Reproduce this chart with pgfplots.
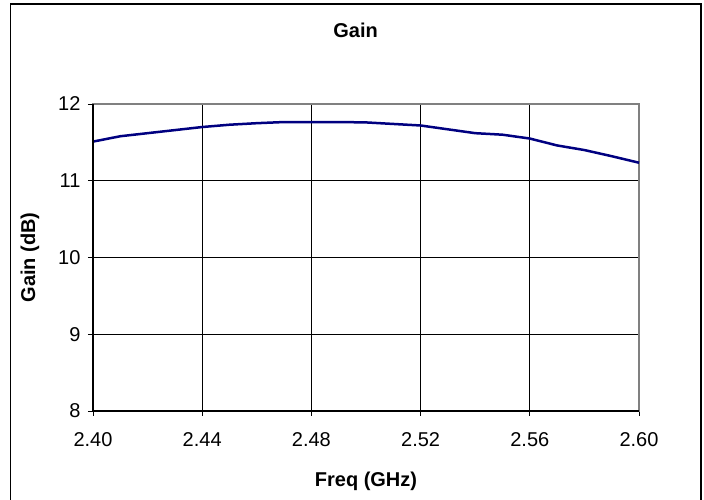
\documentclass[border=0pt]{standalone}
\usepackage{pgfplots}
\pgfplotsset{compat=1.18}
\usepackage{fontspec}
\setmainfont{Liberation Sans}
\definecolor{navy}{RGB}{0,0,128}
\definecolor{plotgray}{RGB}{128,128,128}
\begin{document}
\begin{tikzpicture}[x=1pt,y=1pt]
\useasboundingbox (-93,-89) rectangle (611,411);
\draw[black, line width=1.2pt] (-82.5,-95) -- (-82.5,407) -- (608,407) -- (608,-95);
\begin{axis}[
  at={(0,0)}, anchor=south west,
  scale only axis, width=546pt, height=307pt,
  xmin=2.40, xmax=2.60, ymin=8, ymax=12,
  xtick={2.40,2.44,2.48,2.52,2.56,2.60},
  ytick={8,9,10,11,12},
  xtick pos=bottom, ytick pos=left,
  xticklabel style={/pgf/number format/fixed, /pgf/number format/fixed zerofill, /pgf/number format/precision=2, yshift=-13pt},
  /pgf/number format/assume math mode=true,
  tick label style={font=\fontsize{20}{24}\selectfont},
  yticklabel style={xshift=-4pt},
  tick align=outside, major tick length=5pt,
  tick style={black, line width=0.8pt},
  grid=major, major grid style={black, line width=0.8pt},
  axis line style={draw=plotgray, line width=2pt},
  title={\textbf{Gain}},
  title style={font=\fontsize{20}{24}\selectfont, at={(axis description cs:0.481,1.22)}, anchor=center},
  xlabel={\textbf{Freq (GHz)}},
  xlabel style={font=\fontsize{20}{24}\selectfont, at={(axis description cs:0.5,-0.2305)}, anchor=center},
  ylabel={\textbf{Gain (dB)}},
  ylabel style={font=\fontsize{20}{24}\selectfont, at={(axis description cs:-0.1154,0.5)}, anchor=center, rotate=0},
  clip=false,
]
\addplot[navy, line width=2.5pt, line join=round] coordinates {
(2.40,11.51) (2.41,11.58) (2.42,11.62) (2.43,11.66) (2.44,11.70)
(2.45,11.73) (2.46,11.75) (2.47,11.765) (2.48,11.765) (2.49,11.765)
(2.50,11.76) (2.51,11.74) (2.52,11.72) (2.53,11.67) (2.54,11.62)
(2.55,11.60) (2.56,11.55) (2.57,11.46) (2.58,11.40) (2.59,11.32)
(2.60,11.235)
};
\draw[black, line width=1.5pt] (rel axis cs:0,1) -- (rel axis cs:0,0) -- (rel axis cs:1,0);
\end{axis}
\end{tikzpicture}
\end{document}
